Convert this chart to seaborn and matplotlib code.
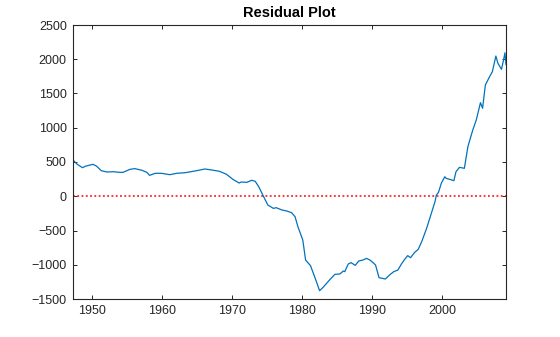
import matplotlib
matplotlib.use("Agg")
import matplotlib.pyplot as plt
import seaborn as sns
import pandas as pd

# Residuals of the fitted model over time (quarterly, 1947-2009)
years = [
    1947.25, 1947.8, 1948.6, 1949.1, 1950.1, 1950.6, 1951.3, 1952.1, 1953.0,
    1954.0, 1954.4, 1955.4, 1956.1, 1957.1, 1957.8, 1958.2, 1959.0, 1959.9,
    1961.1, 1962.1, 1963.3, 1964.7, 1966.1, 1967.1, 1968.2, 1969.2, 1970.1,
    1971.0, 1971.3, 1972.1, 1972.8, 1973.3, 1973.8, 1974.5, 1975.1, 1975.9,
    1976.3, 1977.1, 1977.8, 1978.5, 1979.0, 1979.4, 1980.1, 1980.5, 1981.2,
    1981.7, 1982.1, 1982.5, 1983.0, 1984.0, 1984.7, 1985.4, 1985.9, 1986.1,
    1986.6, 1987.0, 1987.6, 1988.1, 1988.7, 1989.2, 1989.7, 1990.1, 1990.5,
    1991.0, 1991.9, 1992.5, 1993.1, 1993.7, 1994.2, 1994.7, 1995.1, 1995.5,
    1996.1, 1996.6, 1997.1, 1997.8, 1998.4, 1999.0, 1999.2, 1999.5, 1999.9,
    2000.4, 2000.6, 2001.1, 2001.7, 2002.0, 2002.5, 2003.2, 2003.7, 2004.4,
    2004.9, 2005.5, 2005.8, 2006.2, 2006.8, 2007.2, 2007.7, 2008.0, 2008.5,
    2008.8, 2009.0, 2009.15,
]
residuals = [
    530, 471, 417, 441, 466, 441, 373, 354, 358,
    349, 349, 393, 403, 379, 349, 305, 335, 335,
    315, 335, 344, 369, 398, 383, 364, 320, 247,
    193, 208, 203, 233, 218, 140, -6, -128, -177,
    -167, -200, -215, -240, -300, -444, -639, -931, -1013,
    -1150, -1262, -1379, -1330, -1213, -1140, -1135, -1091, -1101,
    -989, -969, -1009, -945, -931, -907, -931, -965, -1004,
    -1189, -1208, -1150, -1101, -1077, -989, -916, -867, -897,
    -819, -775, -663, -469, -274, -79, 18, 57, 189,
    285, 261, 247, 227, 358, 422, 408, 723, 967,
    1113, 1366, 1284, 1624, 1745, 1818, 2047, 1940, 1853,
    1989, 2095, 1920,
]
y_ticks = [-1500, -1000, -500, 0, 500, 1000, 1500, 2000, 2500]
x_ticks = [1950, 1960, 1970, 1980, 1990, 2000]
zero_level = 0
title = "Residual Plot"

df = pd.DataFrame({"year": years, "residual": residuals})

sns.set_theme(style="white")
plt.rcParams["font.family"] = ["Liberation Sans", "DejaVu Sans"]

axis_color = "#262626"
fig = plt.figure(figsize=(5.6, 3.37), dpi=100)
ax = fig.add_axes([73 / 560, 1 - 299 / 337, (506 - 73) / 560, (299 - 25) / 337])

sns.lineplot(data=df, x="year", y="residual", ax=ax, color="#0072BD",
             linewidth=0.9, sort=False)
ax.axhline(zero_level, color="red", linestyle=(0, (1.2, 1.6)), linewidth=1.1,
           zorder=1)

ax.set_xlim(min(years), max(years))
ax.set_ylim(y_ticks[0], y_ticks[-1])
ax.set_xticks(x_ticks)
ax.set_yticks(y_ticks)
ax.set_xlabel("")
ax.set_ylabel("")
ax.set_title(title, fontsize=10.5, fontweight="bold", color="black", pad=5.5)

for side in ["left", "right", "top", "bottom"]:
    ax.spines[side].set_visible(True)
    ax.spines[side].set_color(axis_color)
    ax.spines[side].set_linewidth(0.8)
ax.tick_params(axis="both", which="major", direction="in", length=3.2,
               width=0.7, color=axis_color, labelcolor=axis_color,
               labelsize=9, top=True, right=True, bottom=True, left=True)
ax.tick_params(axis="y", pad=4.5)
ax.tick_params(axis="x", pad=4.5)
ax.grid(False)

fig.savefig("out.png", dpi=100)
